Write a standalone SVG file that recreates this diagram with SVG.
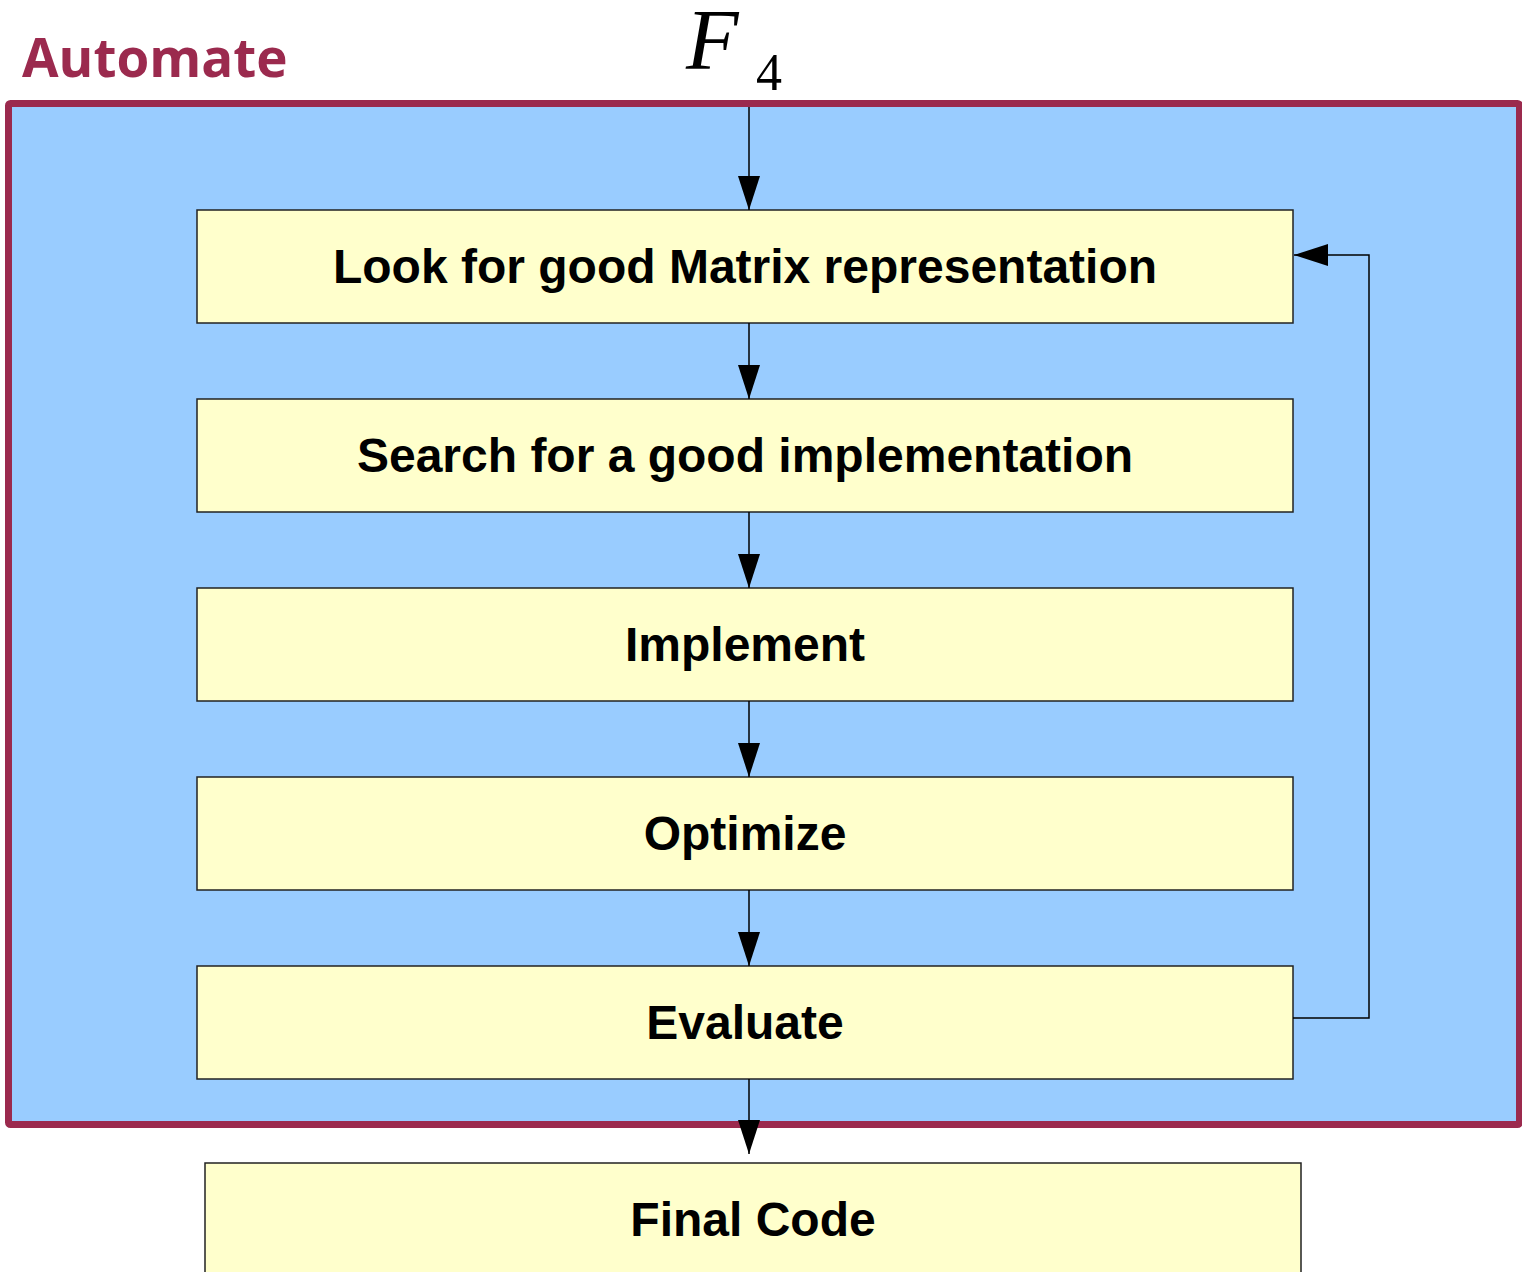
<svg xmlns="http://www.w3.org/2000/svg" width="1522" height="1272" viewBox="0 0 1522 1272">
  <style>
    .box { fill: #FFFFCC; stroke: #222222; stroke-width: 1.5; }
    .lbl { font-family: "Liberation Sans", Arial, sans-serif; font-weight: bold; font-size: 48px; fill: #000000; text-anchor: middle; }
    .conn { fill: none; stroke: #000000; stroke-width: 1.5; }
  </style>
  <defs>
    <marker id="arrow" markerUnits="userSpaceOnUse" viewBox="0 0 34 22" refX="34" refY="11" markerWidth="34" markerHeight="22" orient="auto">
      <path d="M0,0 L34,11 L0,22 z" fill="#000000"/>
    </marker>
  </defs>
  <rect width="1522" height="1272" fill="#FFFFFF"/>

  <g id="automate-frame">
    <rect x="8.5" y="103.5" width="1511" height="1021" rx="2" fill="#99CCFF" stroke="#9B2A4E" stroke-width="7"/>
    <text x="22" y="77" font-family="'Open Sans', 'Noto Sans', sans-serif" font-weight="bold" font-size="53" fill="#9B2A4E">Automate</text>
  </g>

  <g id="input-f4">
    <text x="686" y="69" font-family="'Liberation Serif', 'Times New Roman', serif" font-style="italic" font-size="86" fill="#000000">F</text>
    <text x="756" y="90" font-family="'Liberation Serif', 'Times New Roman', serif" font-size="52" fill="#000000">4</text>
  </g>

  <g id="node-look">
    <rect class="box" x="197" y="210" width="1096" height="113"/>
    <text class="lbl" x="745" y="283">Look for good Matrix representation</text>
  </g>
  <g id="node-search">
    <rect class="box" x="197" y="399" width="1096" height="113"/>
    <text class="lbl" x="745" y="472">Search for a good implementation</text>
  </g>
  <g id="node-implement">
    <rect class="box" x="197" y="588" width="1096" height="113"/>
    <text class="lbl" x="745" y="661">Implement</text>
  </g>
  <g id="node-optimize">
    <rect class="box" x="197" y="777" width="1096" height="113"/>
    <text class="lbl" x="745" y="850">Optimize</text>
  </g>
  <g id="node-evaluate">
    <rect class="box" x="197" y="966" width="1096" height="113"/>
    <text class="lbl" x="745" y="1039">Evaluate</text>
  </g>
  <g id="node-final">
    <rect class="box" x="205" y="1163" width="1096" height="113"/>
    <text class="lbl" x="753" y="1236">Final Code</text>
  </g>

  <g id="connectors">
    <line class="conn" x1="749" y1="107" x2="749" y2="210" marker-end="url(#arrow)"/>
    <line class="conn" x1="749" y1="323" x2="749" y2="399" marker-end="url(#arrow)"/>
    <line class="conn" x1="749" y1="512" x2="749" y2="588" marker-end="url(#arrow)"/>
    <line class="conn" x1="749" y1="701" x2="749" y2="777" marker-end="url(#arrow)"/>
    <line class="conn" x1="749" y1="890" x2="749" y2="966" marker-end="url(#arrow)"/>
    <line class="conn" x1="749" y1="1079" x2="749" y2="1154" marker-end="url(#arrow)"/>
    <polyline class="conn" points="1293,1018 1369,1018 1369,255 1294,255" marker-end="url(#arrow)"/>
  </g>
</svg>
